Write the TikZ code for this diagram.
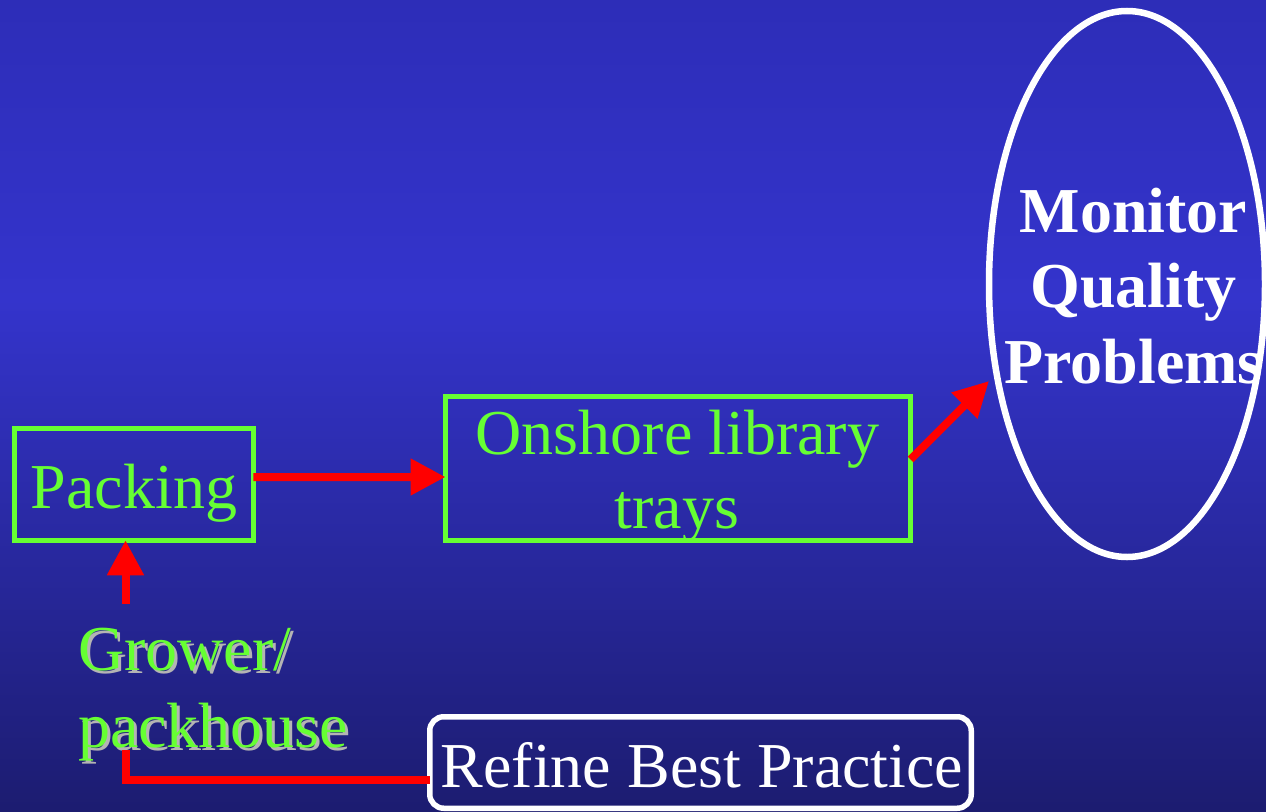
\documentclass[tikz,border=0pt]{standalone}
\usepackage{fontspec}
\setmainfont{Liberation Serif}
\usetikzlibrary{arrows.meta,shapes.geometric}
\definecolor{bgtop}{RGB}{45,45,184}
\definecolor{bgmid}{RGB}{52,52,204}
\definecolor{bgbot}{RGB}{28,28,112}
\definecolor{lgreen}{RGB}{102,255,51}
\definecolor{shadowgray}{RGB}{180,180,180}
\newcommand{\shadowtext}[1]{\rlap{\hspace{3bp}\raisebox{-3bp}{\textcolor{shadowgray}{#1}}}#1}
\begin{document}
\begin{tikzpicture}[x=1bp,y=-1bp,
  greenbox/.style={draw=lgreen,line width=5bp,inner sep=0,outer sep=0},
  lbl/.style={inner sep=0,outer sep=0,anchor=base,font=\fontsize{64bp}{75bp}\selectfont},
  lblw/.style={lbl,anchor=base west},
  redarrow/.style={draw=red,line width=8bp,-{Triangle[length=35bp,width=35bp]}},
  redline/.style={draw=red,line width=8bp}]
\useasboundingbox (0,0) rectangle (1266,812);
\shade[top color=bgtop,bottom color=bgmid] (0,0) rectangle (1266,300);
\shade[top color=bgmid,bottom color=bgbot] (0,300) rectangle (1266,812);

% Packing
\node[greenbox,minimum width=238.5bp,minimum height=111.5bp] (pack) at (134,484.5) {};
\node[lbl,text=lgreen] (packt) at (134,508) {Packing};

% Onshore library trays
\node[greenbox,minimum width=465bp,minimum height=144bp] (ons) at (678,468.5) {};
\node[lbl,text=lgreen] (onst1) at (677.5,454) {Onshore library};
\node[lbl,text=lgreen] (onst2) at (677,528) {trays};

% Monitor ellipse
\node[ellipse,draw=white,line width=6.5bp,minimum width=276bp,minimum height=546bp,inner sep=0,outer sep=0] (mon) at (1127,284) {};
\node[lbl,text=white,font=\fontsize{64bp}{75bp}\selectfont\bfseries] (mont1) at (1133.5,232) {Monitor};
\node[lbl,text=white,font=\fontsize{64bp}{75bp}\selectfont\bfseries] (mont2) at (1133.5,307) {Quality};
\node[lbl,text=white,font=\fontsize{64bp}{75bp}\selectfont\bfseries] (mont3) at (1133.5,383) {Problems};

% Refine Best Practice
\node[draw=white,line width=5.5bp,rounded corners=14bp,minimum width=541.5bp,minimum height=91.5bp,inner sep=0,outer sep=0] (ref) at (700.5,762.5) {};
\node[lbl,text=white] (reft) at (702,787) {Refine Best Practice};

% Grower/packhouse (with shadow)
\node[lblw,text=lgreen] (gr1) at (78,670) {\shadowtext{Grower/}};
\node[lblw,text=lgreen] (gr2) at (78,747) {\shadowtext{packhouse}};

% Connectors
\coordinate (gup) at (125.5,604);
\coordinate (gdown) at (126,750);
\draw[redarrow] ([yshift=7.5bp]pack.east) -- ([yshift=-8.5bp]ons.west);
\draw[redarrow] (gup) -- (gup |- pack.south);
\draw[redarrow] ([yshift=9bp]ons.east) -- ([yshift=-97bp]mon.west);
\draw[redline] ([yshift=-17.5bp]ref.west) -| (gdown);
\end{tikzpicture}
\end{document}
